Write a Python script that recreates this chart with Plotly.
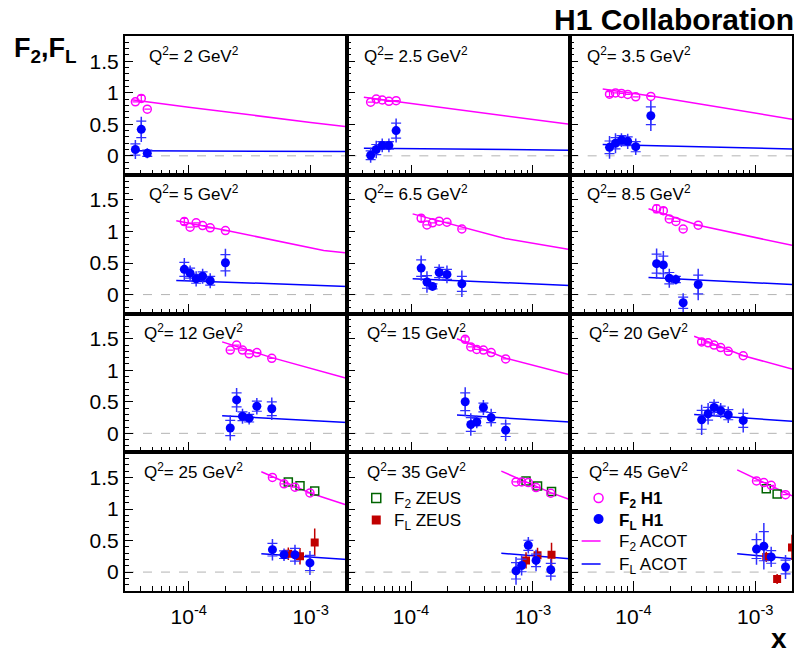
import math
import plotly.graph_objects as go
from plotly.subplots import make_subplots

FONT = "Liberation Sans, Arial, Helvetica, sans-serif"

Q2_LABELS = ["2", "2.5", "3.5", "5", "6.5", "8.5", "12", "15", "20", "25", "35", "45"]

# ---------------- H1 data (per Q2 bin) ----------------
H1_X = [
    [3.65e-5, 4.08e-5, 4.57e-5],
    [4.66e-5, 5.18e-5, 5.8e-5, 6.58e-5, 7.54e-5],
    [6.37e-5, 7.13e-5, 7.98e-5, 8.98e-5, 1.045e-4, 1.39e-4],
    [9.2e-5, 1.026e-4, 1.15e-4, 1.3e-4, 1.5e-4, 2.0e-4],
    [1.21e-4, 1.35e-4, 1.5e-4, 1.7e-4, 1.97e-4, 2.61e-4],
    [1.55e-4, 1.76e-4, 1.97e-4, 2.23e-4, 2.56e-4, 3.4e-4],
    [2.19e-4, 2.47e-4, 2.76e-4, 3.13e-4, 3.62e-4, 4.8e-4],
    [2.78e-4, 3.09e-4, 3.46e-4, 3.92e-4, 4.54e-4, 5.97e-4],
    [3.63e-4, 4.1e-4, 4.59e-4, 5.2e-4, 6.0e-4, 7.96e-4],
    [4.86e-4, 6.05e-4, 7.44e-4, 9.87e-4],
    [7.26e-4, 8.07e-4, 9.16e-4, 1.06e-3, 1.40e-3],
    [1.023e-3, 1.175e-3, 1.35e-3, 1.77e-3],
]
H1_F2 = [
    [0.856, 0.91, 0.74],
    [0.85, 0.90, 0.885, 0.865, 0.875],
    [0.978, 0.998, 0.989, 0.973, 0.935, 0.941],
    [1.158, 1.068, 1.137, 1.095, 1.058, 1.015],
    [1.21, 1.105, 1.137, 1.163, 1.147, 1.04],
    [1.36, 1.33, 1.20, 1.16, 1.04, 1.10],
    [1.32, 1.40, 1.32, 1.26, 1.28, 1.19],
    [1.49, 1.37, 1.33, 1.32, 1.28, 1.18],
    [1.45, 1.435, 1.40, 1.36, 1.30, 1.23],
    [1.50, 1.40, 1.345, 1.255],
    [1.43, 1.43, 1.42, 1.34, 1.25],
    [1.445, 1.42, 1.376, 1.228],
]
H1_F2_ERR = [
    [0, 0.05, 0],
    [0, 0, 0, 0, 0],
    [0.04, 0, 0, 0, 0, 0],
    [0.05, 0, 0, 0, 0, 0],
    [0.05, 0, 0, 0, 0, 0],
    [0.06, 0.05, 0, 0, 0, 0],
    [0, 0, 0, 0, 0, 0],
    [0.04, 0, 0, 0, 0, 0],
    [0.04, 0, 0, 0, 0, 0],
    [0, 0, 0, 0],
    [0, 0, 0, 0, 0],
    [0, 0, 0, 0],
]
H1_FL = [
    [0.10, 0.42, 0.04],
    [0.01, 0.10, 0.165, 0.165, 0.40],
    [0.135, 0.20, 0.25, 0.23, 0.145, 0.635],
    [0.40, 0.34, 0.25, 0.29, 0.22, 0.505],
    [0.42, 0.20, 0.13, 0.35, 0.32, 0.17],
    [0.49, 0.47, 0.26, 0.24, -0.13, 0.16],
    [0.085, 0.53, 0.27, 0.24, 0.43, 0.39],
    [0.50, 0.14, 0.18, 0.41, 0.25, 0.05],
    [0.215, 0.31, 0.41, 0.36, 0.295, 0.205],
    [0.355, 0.275, 0.275, 0.145],
    [0.02, 0.105, 0.425, 0.185, 0.037],
    [0.365, 0.41, 0.24, 0.08],
]
H1_FL_TOT = [
    [0.15, 0.20, 0.08],
    [0.12, 0.14, 0.11, 0.11, 0.19],
    [0.18, 0.16, 0.11, 0.12, 0.13, 0.24],
    [0.18, 0.12, 0.12, 0.12, 0.12, 0.22],
    [0.20, 0.17, 0.06, 0.13, 0.14, 0.21],
    [0.24, 0.22, 0.15, 0.08, 0.15, 0.25],
    [0.20, 0.19, 0.12, 0.10, 0.13, 0.18],
    [0.23, 0.18, 0.10, 0.12, 0.14, 0.17],
    [0.24, 0.17, 0.13, 0.12, 0.13, 0.19],
    [0.17, 0.10, 0.16, 0.19],
    [0.22, 0.16, 0.13, 0.17, 0.17],
    [0.25, 0.37, 0.16, 0.19],
]
H1_FL_STAT = [
    [0.09, 0.13, 0.05],
    [0.07, 0.08, 0.06, 0.06, 0.12],
    [0.10, 0.09, 0.07, 0.07, 0.08, 0.14],
    [0.11, 0.08, 0.07, 0.07, 0.07, 0.13],
    [0.13, 0.10, 0.04, 0.08, 0.08, 0.12],
    [0.15, 0.14, 0.09, 0.05, 0.09, 0.15],
    [0.12, 0.11, 0.07, 0.06, 0.08, 0.11],
    [0.14, 0.11, 0.06, 0.07, 0.08, 0.10],
    [0.15, 0.10, 0.08, 0.07, 0.08, 0.11],
    [0.10, 0.06, 0.10, 0.12],
    [0.13, 0.10, 0.08, 0.10, 0.10],
    [0.15, 0.23, 0.10, 0.11],
]

# ---------------- ZEUS data ----------------
ZEUS_X = [[], [], [], [], [], [], [], [], [],
          [6.56e-4, 8.18e-4, 1.08e-3],
          [8.77e-4, 1.09e-3, 1.42e-3],
          [1.23e-3, 1.51e-3, 2.0e-3]]
ZEUS_F2 = [[], [], [], [], [], [], [], [], [],
           [1.43, 1.37, 1.285],
           [1.445, 1.365, 1.276],
           [1.32, 1.24, None]]
ZEUS_FL = [[], [], [], [], [], [], [], [], [],
           [0.29, 0.25, 0.47],
           [0.185, 0.265, 0.276],
           [0.24, -0.11, 0.39]]
ZEUS_FL_ERR = [[], [], [], [], [], [], [], [], [],
               [0.10, 0.13, 0.22],
               [0.13, 0.12, 0.19],
               [0.08, 0.08, 0.20]]

# ---------------- ACOT predictions ----------------
ACOT_F2_X = [
    [3.4e-5, 1e-4, 1e-3, 2e-3],
    [4.1e-5, 1e-3, 2e-3],
    [5.6e-5, 1.4e-4, 2e-3],
    [7.9e-5, 2e-4, 1.28e-3, 2e-3],
    [1.03e-4, 5.9e-4, 2e-3],
    [1.33e-4, 3.4e-4, 2e-3],
    [1.88e-4, 4.8e-4, 2e-3],
    [2.38e-4, 6e-4, 2e-3],
    [3.15e-4, 8e-4, 2e-3],
    [3.94e-4, 1e-3, 2e-3],
    [5.5e-4, 1.4e-3, 2e-3],
    [7.1e-4, 2e-3],
]
ACOT_F2_Y = [
    [0.89, 0.77, 0.53, 0.46],
    [0.93, 0.58, 0.50],
    [1.06, 0.95, 0.58],
    [1.17, 1.02, 0.70, 0.66],
    [1.28, 0.89, 0.715],
    [1.36, 1.10, 0.78],
    [1.45, 1.20, 0.87],
    [1.50, 1.19, 0.93],
    [1.54, 1.23, 1.02],
    [1.59, 1.25, 1.06],
    [1.60, 1.26, 1.15],
    [1.62, 1.21],
]
ACOT_FL_X = [
    [3.4e-5, 2e-3], [4.1e-5, 2e-3], [5.6e-5, 2e-3], [7.9e-5, 2e-3],
    [1.03e-4, 2e-3], [1.33e-4, 2e-3], [1.88e-4, 2e-3], [2.38e-4, 2e-3],
    [3.15e-4, 2e-3], [3.94e-4, 2e-3], [5.5e-4, 2e-3], [7.1e-4, 2e-3],
]
ACOT_FL_Y = [
    [0.08, 0.07], [0.12, 0.09], [0.18, 0.11], [0.225, 0.13],
    [0.25, 0.145], [0.27, 0.16], [0.28, 0.17], [0.29, 0.18],
    [0.30, 0.19], [0.29, 0.20], [0.30, 0.21], [0.29, 0.21],
]

X_RANGE = [3e-5, 2e-3]
Y_RANGE = [-0.3, 1.9]
X_TICKS = [1e-4, 1e-3]
X_TICK_TEXT = ["10<sup>-4</sup>", "10<sup>-3</sup>"]
X_MINOR = [3e-5, 4e-5, 5e-5, 6e-5, 7e-5, 8e-5, 9e-5,
           2e-4, 3e-4, 4e-4, 5e-4, 6e-4, 7e-4, 8e-4, 9e-4, 2e-3]
Y_TICKS = [0, 0.5, 1, 1.5]
Y_TICK_TEXT = ["0", "0.5", "1", "1.5"]

LEGEND_ZEUS = ["F<sub>2</sub> ZEUS", "F<sub>L</sub> ZEUS"]
LEGEND_H1 = ["<b>F<sub>2</sub> H1</b>", "<b>F<sub>L</sub> H1</b>",
             "F<sub>2</sub> ACOT", "F<sub>L</sub> ACOT"]

MAGENTA = "#ff00ff"
BLUE = "#0000ff"
ERRBLUE = "#3030ff"
GREEN = "#006400"
RED = "#c00000"

W, H = 800, 657
ML, MR, MT, MB = 125, 6, 36, 66
PW = W - ML - MR
PH = H - MT - MB


def px(xp):
    return (xp - ML) / PW


def py(yp):
    return (H - MB - yp) / PH


fig = make_subplots(rows=4, cols=3, horizontal_spacing=0, vertical_spacing=0)

for i in range(12):
    r, c = i // 3 + 1, i % 3 + 1
    fig.add_trace(go.Scatter(x=ACOT_F2_X[i], y=ACOT_F2_Y[i], mode="lines",
                             line=dict(color=MAGENTA, width=1.5), showlegend=False),
                  row=r, col=c)
    fig.add_trace(go.Scatter(x=ACOT_FL_X[i], y=ACOT_FL_Y[i], mode="lines",
                             line=dict(color=BLUE, width=1.5), showlegend=False),
                  row=r, col=c)
    if ZEUS_X[i]:
        fig.add_trace(go.Scatter(x=ZEUS_X[i], y=ZEUS_F2[i], mode="markers",
                                 marker=dict(symbol="square-open", size=8, color=GREEN,
                                             line=dict(width=1.5, color=GREEN)),
                                 showlegend=False), row=r, col=c)
        fig.add_trace(go.Scatter(x=ZEUS_X[i], y=ZEUS_FL[i], mode="markers",
                                 marker=dict(symbol="square", size=8, color=RED),
                                 error_y=dict(type="data", array=ZEUS_FL_ERR[i],
                                              color=RED, thickness=1.5, width=0),
                                 showlegend=False), row=r, col=c)
    fig.add_trace(go.Scatter(x=H1_X[i], y=H1_F2[i], mode="markers",
                             marker=dict(symbol="circle-open", size=8, color=MAGENTA,
                                         line=dict(width=1.5, color=MAGENTA)),
                             error_y=dict(type="data", array=H1_F2_ERR[i],
                                          color=MAGENTA, thickness=1.2, width=3),
                             showlegend=False), row=r, col=c)
    fig.add_trace(go.Scatter(x=H1_X[i], y=H1_FL[i], mode="markers",
                             marker=dict(symbol="circle", size=1, color="rgba(0,0,0,0)"),
                             error_y=dict(type="data", array=H1_FL_STAT[i],
                                          color=ERRBLUE, thickness=1.2, width=5),
                             showlegend=False, hoverinfo="skip"), row=r, col=c)
    fig.add_trace(go.Scatter(x=H1_X[i], y=H1_FL[i], mode="markers",
                             marker=dict(symbol="circle", size=9, color=BLUE),
                             error_y=dict(type="data", array=H1_FL_TOT[i],
                                          color=ERRBLUE, thickness=1.5, width=0),
                             showlegend=False), row=r, col=c)

    xa = "xaxis" if i == 0 else f"xaxis{i+1}"
    ya = "yaxis" if i == 0 else f"yaxis{i+1}"
    fig.layout[xa].update(
        type="log", range=[math.log10(X_RANGE[0]), math.log10(X_RANGE[1])],
        tickmode="array", tickvals=X_TICKS, ticktext=X_TICK_TEXT,
        showticklabels=(r == 4), ticks="inside", ticklen=10, tickwidth=1,
        tickcolor="black", ticklabelstandoff=6,
        minor=dict(tickmode="array", tickvals=X_MINOR, ticks="inside",
                   ticklen=5, tickwidth=1, tickcolor="black"),
        showline=True, linewidth=2, linecolor="black", mirror=True,
        showgrid=False, zeroline=False,
        tickfont=dict(family=FONT, size=21, color="black"))
    fig.layout[ya].update(
        range=Y_RANGE, tickmode="array", tickvals=Y_TICKS, ticktext=Y_TICK_TEXT,
        showticklabels=(c == 1), ticks="inside", ticklen=8, tickwidth=1,
        tickcolor="black", ticklabelstandoff=0,
        minor=dict(tick0=0, dtick=0.1, ticks="inside", ticklen=4, tickwidth=1,
                   tickcolor="black"),
        showline=True, linewidth=2, linecolor="black", mirror=True,
        showgrid=False, zeroline=False,
        tickfont=dict(family=FONT, size=21, color="black"))

    xs = "x" if i == 0 else f"x{i+1}"
    ys = "y" if i == 0 else f"y{i+1}"
    fig.add_shape(type="line", xref=f"{xs} domain", yref=ys, x0=0, x1=1, y0=0, y1=0,
                  line=dict(color="#b4b4b4", width=1, dash="dash"), layer="below")
    fig.add_annotation(xref=f"{xs} domain", yref=f"{ys} domain", x=0.31, y=0.865,
                       xanchor="center", yanchor="middle", showarrow=False,
                       text=f"Q<sup>2</sup>= {Q2_LABELS[i]} GeV<sup>2</sup>",
                       font=dict(family=FONT, size=17, color="black"))

# ---------------- legend (drawn on an overlay axis spanning the plot area) ----------------
fig.update_layout(
    xaxis13=dict(domain=[0, 1], range=[0, 1], visible=False, fixedrange=True,
                 anchor="y13"),
    yaxis13=dict(domain=[0, 1], range=[0, 1], visible=False, fixedrange=True,
                 anchor="x13"),
)
LEG = dict(xaxis="x13", yaxis="y13", showlegend=False, hoverinfo="skip",
           cliponaxis=False)
fig.add_trace(go.Scatter(x=[px(377)], y=[py(498)], mode="markers",
                         marker=dict(symbol="square-open", size=9, color=GREEN,
                                     line=dict(width=1.5, color=GREEN)), **LEG))
fig.add_trace(go.Scatter(x=[px(377)], y=[py(520)], mode="markers",
                         marker=dict(symbol="square", size=9, color=RED), **LEG))
fig.add_trace(go.Scatter(x=[px(600)], y=[py(498)], mode="markers",
                         marker=dict(symbol="circle-open", size=9, color=MAGENTA,
                                     line=dict(width=1.5, color=MAGENTA)), **LEG))
fig.add_trace(go.Scatter(x=[px(600)], y=[py(519)], mode="markers",
                         marker=dict(symbol="circle", size=10, color=BLUE), **LEG))
fig.add_trace(go.Scatter(x=[px(583), px(602)], y=[py(541), py(541)], mode="lines",
                         line=dict(color=MAGENTA, width=1.5), **LEG))
fig.add_trace(go.Scatter(x=[px(583), px(602)], y=[py(564), py(564)], mode="lines",
                         line=dict(color=BLUE, width=1.5), **LEG))

for txt, yy in zip(LEGEND_ZEUS, [500, 522]):
    fig.add_annotation(xref="paper", yref="paper", x=px(393), y=py(yy), xanchor="left",
                       yanchor="middle", showarrow=False, text=txt,
                       font=dict(family=FONT, size=17, color="black"))
for txt, yy in zip(LEGEND_H1, [500, 522, 543, 566]):
    fig.add_annotation(xref="paper", yref="paper", x=px(618), y=py(yy), xanchor="left",
                       yanchor="middle", showarrow=False, text=txt,
                       font=dict(family=FONT, size=17, color="black"))

fig.add_annotation(xref="paper", yref="paper", x=px(798), y=py(19), xanchor="right",
                   yanchor="middle", showarrow=False, text="<b>H1 Collaboration</b>",
                   font=dict(family=FONT, size=30, color="black"))
fig.add_annotation(xref="paper", yref="paper", x=px(12), y=py(50), xanchor="left",
                   yanchor="middle", showarrow=False,
                   text="<b>F<sub>2</sub>,F<sub>L</sub></b>",
                   font=dict(family=FONT, size=27, color="black"))
fig.add_annotation(xref="paper", yref="paper", x=px(781), y=py(656), xanchor="center",
                   yanchor="bottom", showarrow=False, text="<b>x</b>",
                   font=dict(family=FONT, size=28, color="black"))

fig.update_layout(
    width=W, height=H,
    margin=dict(l=ML, r=MR, t=MT, b=MB, pad=0),
    paper_bgcolor="white", plot_bgcolor="rgba(0,0,0,0)",
    font=dict(family=FONT, size=17, color="black"),
    showlegend=False,
)

fig.write_html("out.html")
